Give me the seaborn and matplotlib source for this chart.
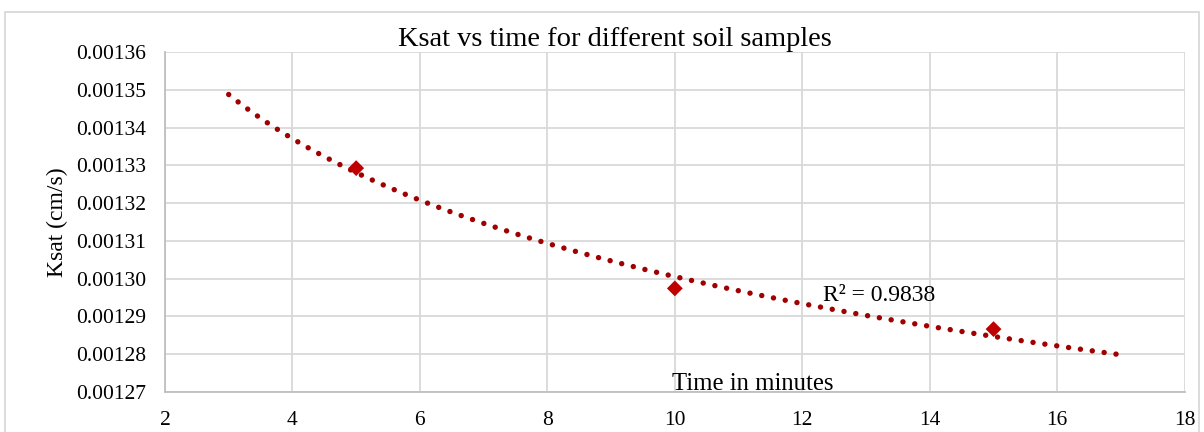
import numpy as np
import pandas as pd
import matplotlib
matplotlib.use('Agg')
import matplotlib.pyplot as plt
import seaborn as sns
from matplotlib.patches import Rectangle

time_min = [5, 10, 15]
ksat = [0.0013293, 0.0012974, 0.0012866]
trend_range = [3, 17]
r2_label = 'R² = 0.9838'

sns.set_style('white')
plt.rcParams['font.family'] = ['Liberation Serif', 'DejaVu Serif']
plt.rcParams['text.color'] = 'black'
plt.rcParams['xtick.color'] = 'black'
plt.rcParams['ytick.color'] = 'black'
plt.rcParams['axes.labelcolor'] = 'black'

df = pd.DataFrame({'Time': time_min, 'Ksat': ksat})

# power trendline (like Excel): ln y = ln a + b ln x
b, ln_a = np.polyfit(np.log(df['Time']), np.log(df['Ksat']), 1)
xt = np.linspace(trend_range[0], trend_range[1], 200)
df_trend = pd.DataFrame({'Time': xt, 'Ksat': np.exp(ln_a) * xt ** b})

fig = plt.figure(figsize=(12.04, 4.32), dpi=100)
ax = fig.add_axes([0.137, 0.0933, 0.847, 0.7854])

grid_c = '#D9D9D9'
ax.grid(True, color=grid_c, linewidth=1.3)
ax.set_axisbelow(True)

sns.lineplot(data=df_trend, x='Time', y='Ksat', ax=ax, color='#A00000',
             linewidth=3.9, linestyle=(0, (0.01, 2.2)), dash_capstyle='round')
sns.scatterplot(data=df, x='Time', y='Ksat', ax=ax, marker='D', s=65,
                color='#C00000', edgecolor='none', zorder=3)

ax.set_xlim(2, 18)
ax.set_ylim(0.00127, 0.00136)
ax.set_xticks(np.arange(2, 19, 2))
ax.set_yticks(np.arange(0.00127, 0.001365, 0.00001))
ax.set_yticklabels(['%.5f' % v for v in np.arange(0.00127, 0.001365, 0.00001)])
ax.tick_params(axis='x', length=5, color='#BFBFBF', width=1.3, labelsize=15.5, pad=9)
ax.tick_params(axis='y', length=0, labelsize=15.5, pad=13.5)

for side in ['top', 'right']:
    ax.spines[side].set_visible(False)
for side in ['left', 'bottom']:
    ax.spines[side].set_color('#BFBFBF')
    ax.spines[side].set_linewidth(1.3)

ax.set_xlabel('')
ax.set_ylabel('Ksat (cm/s)', fontsize=17)
ax.yaxis.set_label_coords(-0.095, 0.5)

ax.text(12.33, 0.0012954, r2_label, fontsize=17, ha='left', va='center')
fig.text(753 / 1204, 1 - 384 / 432, 'Time in minutes', fontsize=17.8, ha='center', va='center')
fig.text(615 / 1204, 1 - 39 / 432, 'Ksat vs time for different soil samples', fontsize=20.5,
         ha='center', va='center')

fig.patches.append(Rectangle((5 / 1204, -0.05), 1194 / 1204, 1 - 12 / 432 + 0.05,
                             transform=fig.transFigure, fill=False,
                             edgecolor='#D9D9D9', linewidth=1.3))

fig.savefig('out.png', dpi=100)
